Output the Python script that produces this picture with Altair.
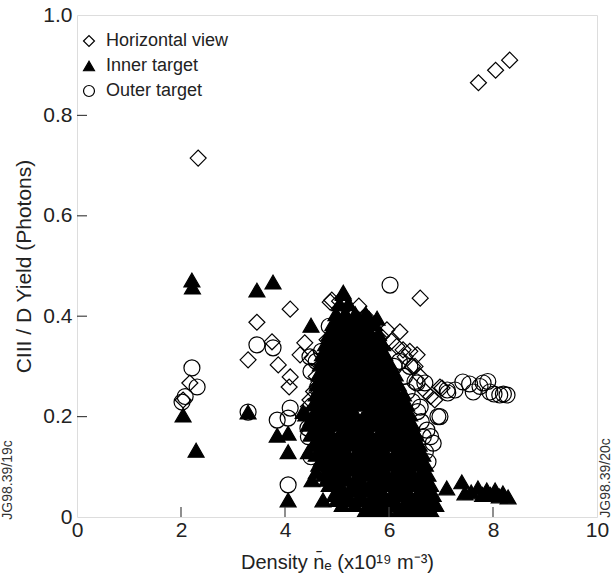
import altair as alt
import pandas as pd

FONT = "Liberation Sans"
series_names = ["Horizontal view", "Inner target", "Outer target"]

# Horizontal view (open diamonds)
hv_x = [2.33, 7.72, 8.05, 8.32, 2.04, 2.17, 4.10, 3.46, 3.75, 3.29, 3.87, 4.10, 4.08,
        4.38, 4.29, 4.52, 4.87, 4.81, 4.83, 4.62, 4.48, 4.90, 5.42, 5.96, 6.21, 6.60,
        6.54, 6.31, 6.98, 6.88, 5.58, 7.02, 6.27, 6.50, 5.05, 5.25, 5.55, 5.70, 5.85,
        6.05, 6.15, 6.40, 6.45, 6.60, 6.70, 6.80, 4.60, 4.70, 4.75, 4.55, 4.45, 4.70,
        4.80, 5.30]
hv_y = [0.715, 0.865, 0.89, 0.91, 0.233, 0.267, 0.414, 0.388, 0.349, 0.313, 0.303, 0.279, 0.259,
        0.347, 0.323, 0.317, 0.428, 0.353, 0.319, 0.259, 0.233, 0.432, 0.42, 0.373, 0.369, 0.436,
        0.323, 0.319, 0.259, 0.233, 0.378, 0.257, 0.333, 0.30, 0.43, 0.41, 0.40, 0.37, 0.36,
        0.35, 0.34, 0.33, 0.30, 0.28, 0.25, 0.24, 0.28, 0.30, 0.27, 0.25, 0.22, 0.22,
        0.26, 0.40]

# Outer target (open circles)
ot_x = [2.21, 2.31, 2.02, 2.08, 3.29, 3.46, 3.77, 3.85, 4.10, 4.06, 4.06, 4.48, 4.87, 4.44,
        4.63, 5.06, 6.02, 6.54, 7.12, 6.98, 6.85, 6.73, 6.60, 6.69, 6.94, 6.80, 7.42, 7.62,
        7.81, 7.94, 8.13, 8.27, 7.13, 7.27, 7.55, 7.75, 7.90, 8.02, 8.20, 6.30, 6.35, 6.45,
        6.55, 6.62, 6.66, 6.70, 6.55, 6.75, 6.50, 6.40, 6.20, 6.10, 4.85, 5.00, 5.20, 4.70,
        4.60, 4.50, 4.55, 4.65, 4.45, 4.50]
ot_y = [0.297, 0.259, 0.229, 0.24, 0.209, 0.343, 0.337, 0.193, 0.217, 0.197, 0.064, 0.319, 0.349, 0.177,
        0.259, 0.386, 0.462, 0.267, 0.253, 0.20, 0.147, 0.173, 0.219, 0.267, 0.20, 0.16, 0.269, 0.249,
        0.267, 0.249, 0.243, 0.243, 0.247, 0.253, 0.265, 0.26, 0.27, 0.245, 0.245, 0.28, 0.25, 0.23,
        0.21, 0.19, 0.16, 0.13, 0.12, 0.11, 0.27, 0.30, 0.31, 0.30, 0.38, 0.37, 0.38, 0.33,
        0.31, 0.29, 0.21, 0.20, 0.16, 0.12]

# Inner target (filled triangles): scattered points
it_x = [2.21, 2.22, 2.04, 2.29, 3.29, 3.46, 3.77, 4.50, 3.85, 4.06, 4.06, 4.06, 4.52, 4.73,
        4.35, 4.45, 4.60, 5.06, 7.11, 7.40, 7.46, 7.58, 7.71, 7.88, 8.04, 8.19, 8.29, 7.95,
        7.80, 8.12, 5.77, 5.12]
it_y = [0.472, 0.458, 0.203, 0.133, 0.209, 0.452, 0.468, 0.382, 0.163, 0.167, 0.13, 0.034, 0.074, 0.034,
        0.21, 0.13, 0.09, 0.04, 0.058, 0.07, 0.048, 0.05, 0.058, 0.054, 0.054, 0.048, 0.04, 0.045,
        0.045, 0.042, 0.396, 0.448]

# Inner target: dense cluster, read row by row (yield level, densities)
it_cluster = [
    (0.015, [5.55, 5.75, 5.95, 6.20, 6.40, 6.60, 6.80]),
    (0.025, [5.10, 5.35, 5.60, 5.80, 6.00, 6.15, 6.30, 6.45, 6.60, 6.75, 6.90]),
    (0.035, [5.00, 5.25, 5.50, 5.75, 5.95, 6.10, 6.35, 6.50, 6.65, 6.80]),
    (0.045, [4.95, 5.20, 5.45, 5.70, 5.90, 6.05, 6.25, 6.40, 6.55, 6.70, 6.85]),
    (0.055, [5.10, 5.35, 5.60, 5.80, 6.15, 6.30, 6.60, 6.75]),
    (0.065, [4.85, 5.05, 5.30, 5.50, 5.65, 5.85, 6.00, 6.20, 6.35, 6.50, 6.65, 6.80]),
    (0.075, [4.80, 5.00, 5.20, 5.45, 5.70, 5.90, 6.05, 6.25, 6.40, 6.55, 6.72]),
    (0.085, [4.75, 4.95, 5.15, 5.40, 5.60, 5.75, 5.95, 6.10, 6.30, 6.45, 6.60, 6.75]),
    (0.095, [4.90, 5.10, 5.30, 5.52, 5.70, 5.90, 6.15, 6.40, 6.65]),
    (0.105, [4.65, 4.85, 5.05, 5.25, 5.45, 5.65, 5.85, 6.05, 6.20, 6.35, 6.55, 6.70]),
    (0.115, [4.70, 4.90, 5.12, 5.30, 5.50, 5.72, 5.90, 6.12, 6.25, 6.45, 6.60]),
    (0.125, [4.60, 4.80, 5.00, 5.20, 5.35, 5.55, 5.75, 5.95, 6.10, 6.30, 6.50, 6.65]),
    (0.135, [4.70, 4.88, 5.15, 5.42, 5.62, 5.82, 6.18, 6.38, 6.55]),
    (0.145, [4.55, 4.75, 4.95, 5.10, 5.30, 5.50, 5.70, 5.90, 6.05, 6.25, 6.45, 6.58]),
    (0.155, [4.62, 4.85, 5.02, 5.20, 5.40, 5.60, 5.85, 6.00, 6.15, 6.35, 6.50]),
    (0.165, [4.50, 4.70, 4.90, 5.05, 5.25, 5.45, 5.65, 5.80, 6.00, 6.20, 6.40, 6.52]),
    (0.175, [4.60, 4.80, 5.12, 5.35, 5.55, 5.90, 6.10, 6.30, 6.45]),
    (0.185, [4.45, 4.62, 4.82, 5.00, 5.20, 5.40, 5.60, 5.75, 5.95, 6.15, 6.35, 6.45]),
    (0.195, [4.50, 4.70, 4.88, 5.08, 5.28, 5.48, 5.68, 5.82, 6.02, 6.22, 6.38]),
    (0.205, [4.40, 4.58, 4.78, 4.95, 5.15, 5.35, 5.55, 5.70, 5.90, 6.10, 6.30, 6.40]),
    (0.215, [4.65, 4.85, 5.05, 5.25, 5.62, 5.80, 6.00, 6.18]),
    (0.225, [4.55, 4.75, 4.90, 5.10, 5.30, 5.50, 5.65, 5.85, 6.05, 6.22, 6.34]),
    (0.235, [4.68, 4.85, 5.05, 5.22, 5.45, 5.60, 5.80, 6.00, 6.18]),
    (0.245, [4.60, 4.80, 4.95, 5.15, 5.35, 5.55, 5.75, 5.95, 6.15, 6.28]),
    (0.255, [4.72, 4.90, 5.10, 5.30, 5.50, 5.70, 5.90, 6.08]),
    (0.265, [4.62, 4.82, 5.00, 5.20, 5.40, 5.60, 5.80, 5.98, 6.18]),
    (0.275, [4.72, 4.92, 5.10, 5.30, 5.52, 5.72, 5.92, 6.08]),
    (0.285, [4.65, 4.85, 5.05, 5.25, 5.45, 5.65, 5.85, 6.05, 6.12]),
    (0.295, [4.78, 4.98, 5.18, 5.38, 5.58, 5.78, 5.98]),
    (0.305, [4.68, 4.88, 5.08, 5.28, 5.48, 5.68, 5.88, 6.02]),
    (0.315, [4.78, 4.98, 5.20, 5.40, 5.60, 5.80, 5.95]),
    (0.325, [4.72, 4.92, 5.12, 5.32, 5.52, 5.72, 5.92]),
    (0.335, [4.85, 5.05, 5.25, 5.45, 5.65, 5.85]),
    (0.345, [4.78, 4.98, 5.18, 5.38, 5.58, 5.78, 5.88]),
    (0.355, [4.88, 5.08, 5.28, 5.50, 5.70, 5.82]),
    (0.365, [4.85, 5.02, 5.22, 5.42, 5.62, 5.80]),
    (0.375, [4.95, 5.18, 5.38, 5.60]),
    (0.385, [4.92, 5.10, 5.30, 5.50, 5.72]),
    (0.395, [5.02, 5.22, 5.42, 5.62]),
    (0.405, [4.98, 5.15, 5.35, 5.55]),
    (0.425, [5.05, 5.22]),
    (0.445, [5.12]),
]

x_ticks = [0, 2, 4, 6, 8, 10]
y_ticks = [0, 0.2, 0.4, 0.6, 0.8, 1.0]
inner_x_ticks = [2, 4, 6, 8]
inner_y_ticks = [0.2, 0.4, 0.6, 0.8]

rows = []
for x, y in zip(hv_x, hv_y):
    rows.append({"density": x, "yld": y, "series": "Horizontal view"})
for x, y in zip(ot_x, ot_y):
    rows.append({"density": x, "yld": y, "series": "Outer target"})
for x, y in zip(it_x, it_y):
    rows.append({"density": x, "yld": y, "series": "Inner target"})
for yv, xs in it_cluster:
    for x in xs:
        rows.append({"density": x, "yld": yv, "series": "Inner target"})
df = pd.DataFrame(rows)

W, H = 520, 502
xscale = alt.Scale(domain=[0, 10], nice=False, zero=False)
yscale = alt.Scale(domain=[0, 1], nice=False, zero=False)

x_axis = alt.Axis(values=x_ticks, grid=False, ticks=False, domain=False,
                  labelFont=FONT, labelFontSize=21, labelColor="#222", labelPadding=2,
                  labelFlush=False, format="d",
                  title="Density n\u0304\u2091 (x10\u00b9\u2079 m\u207b\u00b3)",
                  titleFont=FONT, titleFontSize=20, titleFontWeight="normal",
                  titleColor="#222", titlePadding=12)
y_axis = alt.Axis(values=y_ticks, grid=False, ticks=False, domain=False,
                  labelFont=FONT, labelFontSize=21, labelColor="#222", labelPadding=5,
                  labelFlush=False,
                  labelExpr="datum.value == 0 ? '0' : format(datum.value, '.1f')",
                  title="CIII / D Yield (Photons)",
                  titleFont=FONT, titleFontSize=21, titleFontWeight="normal",
                  titleColor="#222", titlePadding=8)

legend = alt.Legend(
    title=None, orient="none", legendX=3, legendY=17, padding=0,
    labelFont=FONT, labelFontSize=18, labelColor="#222", labelOffset=8,
    symbolSize=120, symbolStrokeWidth=1.2,
    rowPadding=7, labelLimit=300,
)

points = alt.Chart(df).mark_point(filled=True, strokeWidth=1.2, opacity=1,
                                  size=255).encode(
    x=alt.X("density:Q", scale=xscale, axis=x_axis),
    y=alt.Y("yld:Q", scale=yscale, axis=y_axis),
    shape=alt.Shape("series:N", scale=alt.Scale(domain=series_names,
                                                range=["diamond", "triangle-up", "circle"]),
                    legend=legend),
    fill=alt.Fill("series:N", scale=alt.Scale(domain=series_names,
                                              range=["transparent", "black", "transparent"]),
                  legend=legend),
    stroke=alt.Stroke("series:N", scale=alt.Scale(domain=series_names,
                                                  range=["black", "black", "black"]),
                      legend=legend),
)

xt_df = pd.DataFrame({"density": inner_x_ticks})
yt_df = pd.DataFrame({"yld": inner_y_ticks})
xticks_layer = alt.Chart(xt_df).mark_rule(color="#444", strokeWidth=1.2).encode(
    x=alt.X("density:Q", scale=xscale, axis=x_axis), y=alt.value(H), y2=alt.value(H - 10))
yticks_layer = alt.Chart(yt_df).mark_rule(color="#444", strokeWidth=1.2).encode(
    y=alt.Y("yld:Q", scale=yscale, axis=y_axis), x=alt.value(0), x2=alt.value(10))

side_df_r = pd.DataFrame({"lab": ["JG98.39/20c"]})
side_df_l = pd.DataFrame({"lab": ["JG98.39/19c"]})
side_r = alt.Chart(side_df_r).mark_text(angle=270, font=FONT, fontSize=14, color="#333").encode(
    text="lab:N", x=alt.value(529), y=alt.value(463))
side_l = alt.Chart(side_df_l).mark_text(angle=270, font=FONT, fontSize=14, color="#333").encode(
    text="lab:N", x=alt.value(-69), y=alt.value(465))

chart = alt.layer(points, xticks_layer, yticks_layer, side_r, side_l).properties(
    width=W, height=H, autosize="none",
    padding={"left": 77, "top": 15, "right": 18, "bottom": 58},
).configure_view(stroke="#444", strokeWidth=1.2).configure(background="white")

chart.save("out.html", embed_options={"renderer": "svg", "actions": False})
